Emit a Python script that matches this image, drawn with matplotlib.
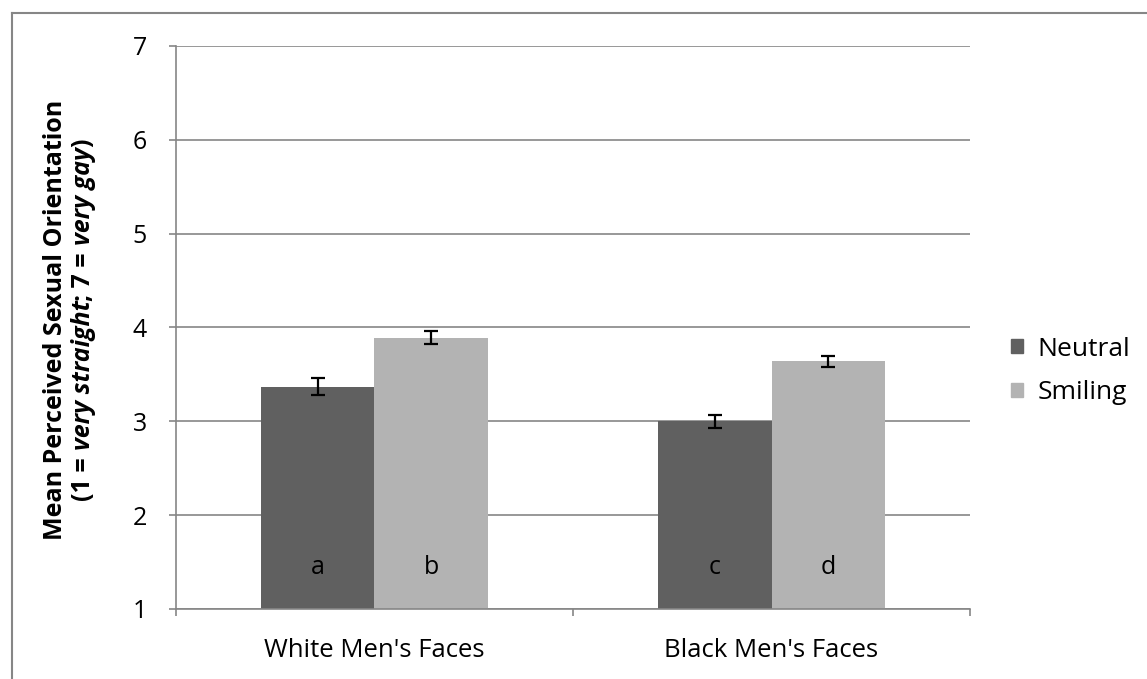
import numpy as np
import matplotlib
matplotlib.use('Agg')
import matplotlib.pyplot as plt
from matplotlib.lines import Line2D
from matplotlib.patches import Patch

categories = ["White Men's Faces", "Black Men's Faces"]
neutral = [3.37, 3.00]
neutral_err = [0.09, 0.07]
smiling = [3.89, 3.64]
smiling_err = [0.07, 0.06]
letters_neutral = ['a', 'c']
letters_smiling = ['b', 'd']
yticks = [1, 2, 3, 4, 5, 6, 7]

plt.rcParams['font.family'] = ['Open Sans', 'DejaVu Sans']

c_neu = '#606060'
c_smi = '#b3b3b3'
c_grid = '#868686'
fs = 18

fig = plt.figure(figsize=(11.47, 6.79), dpi=100, facecolor='w')
ax = fig.add_axes([0.1534, 0.1031, 0.6923, 0.8292])

x = np.arange(len(categories))
w = 0.285
ax.set_axisbelow(True)
ax.bar(x - w/2, neutral, w, bottom=0, color=c_neu, label='Neutral', zorder=2)
ax.bar(x + w/2, smiling, w, color=c_smi, label='Smiling', zorder=2)
ax.errorbar(x - w/2, neutral, yerr=neutral_err, fmt='none', ecolor='k', elinewidth=1.6, capsize=5, capthick=1.6, zorder=3)
ax.errorbar(x + w/2, smiling, yerr=smiling_err, fmt='none', ecolor='k', elinewidth=1.6, capsize=5, capthick=1.6, zorder=3)
for i in range(len(categories)):
    ax.text(x[i] - w/2, 1.44, letters_neutral[i], ha='center', va='center', fontsize=fs, zorder=4)
    ax.text(x[i] + w/2, 1.44, letters_smiling[i], ha='center', va='center', fontsize=fs, zorder=4)

ax.set_xlim(-0.5, 1.5)
ax.set_ylim(1, 7)
ax.set_yticks(yticks)
ax.yaxis.grid(True, color=c_grid, linewidth=1.2)
ax.set_xticks([-0.5, 0.5, 1.5])
ax.set_xticklabels([])
ax.set_xticks(x, minor=True)
ax.set_xticklabels(categories, minor=True)
ax.tick_params(axis='x', which='major', length=5, width=1.2, color=c_grid, direction='out')
ax.tick_params(axis='x', which='minor', length=0, pad=21, labelsize=fs + 0.5)
ax.tick_params(axis='y', length=5, width=1.2, color=c_grid, pad=16, labelsize=fs)
for s in ['top', 'right']:
    ax.spines[s].set_visible(False)
for s in ['left', 'bottom']:
    ax.spines[s].set_color(c_grid)
    ax.spines[s].set_linewidth(1.2)

# y label, first line
fig.text(0.048, 0.529, 'Mean Perceived Sexual Orientation', rotation=90, ha='center', va='center',
         fontsize=fs, fontweight='bold')

# y label, second line with italic parts: place pieces one after another
pieces = [('(1 =', 'normal'), ('very straight', 'italic'), ('; 7 =', 'normal'), ('very gay', 'italic'), (')', 'normal')]
gaps = [1, 0, 1, 0, 0]
renderer = fig.canvas.get_renderer()
def text_w(s, style):
    t = fig.text(0, 0, s, fontsize=fs, fontweight='bold', style=style)
    wd = t.get_window_extent(renderer).width
    t.remove()
    return wd
sp = text_w('a a', 'normal') - text_w('aa', 'normal')
widths = [text_w(s, st) for s, st in pieces]
total = sum(widths) + sum(g * sp for g in gaps[:-1])
H = fig.get_figheight() * fig.dpi
ypos = 0.529 * H - total / 2
for (s, st), wd, g in zip(pieces, widths, gaps):
    fig.text(0.0724, ypos / H, s, rotation=90, ha='center', va='bottom', fontsize=fs,
             fontweight='bold', style=st)
    ypos += wd + g * sp

handles = [Patch(color=c_neu), Patch(color=c_smi)]
fig.legend(handles, ['Neutral', 'Smiling'], loc='center left', bbox_to_anchor=(0.8816, 0.4536),
           frameon=False, fontsize=fs + 1, handlelength=0.45, handleheight=0.45, handletextpad=0.55,
           labelspacing=0.7, borderaxespad=0, borderpad=0)

# outer chart border
fig.add_artist(Line2D([0.0105, 0.0105], [0, 0.981], color=c_grid, linewidth=1.5, transform=fig.transFigure))
fig.add_artist(Line2D([0.0105, 1], [0.981, 0.981], color=c_grid, linewidth=1.5, transform=fig.transFigure))

fig.savefig('out.png', dpi=100, facecolor='w')
